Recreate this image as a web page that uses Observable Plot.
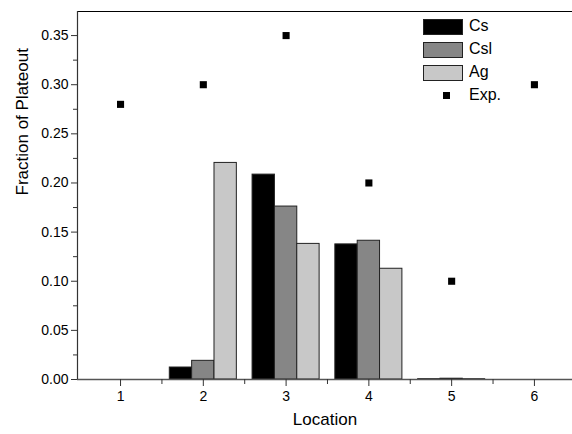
<!DOCTYPE html>
<html>
<head>
<meta charset="utf-8">
<script src="https://cdn.jsdelivr.net/npm/d3@7"></script>
<script src="https://cdn.jsdelivr.net/npm/@observablehq/plot@0.6"></script>
<style>
  body { margin: 0; background: #fff; font-family: "Liberation Sans", Arial, sans-serif; }
  #wrap { position: relative; width: 572px; height: 434px; }
  #legend { position: absolute; left: 423px; top: 19px; font-size: 16px; color: #000; }
  .item { position: absolute; left: 0; height: 16px; white-space: nowrap; }
  .sw { position: absolute; left: 0; top: 0; width: 38px; height: 14px; border: 1px solid #222; }
  .sq { position: absolute; left: 20px; top: 4px; width: 7px; height: 7px; background: #000; }
  .lb { position: absolute; left: 46px; top: -2px; line-height: 18px; }
</style>
</head>
<body>
<div id="wrap"><div id="legend"></div></div>
<script>
// ---- data ----
const locations = [1, 2, 3, 4, 5, 6];
const seriesNames = ["Cs", "Csl", "Ag"];
const csValues  = [0, 0.0122, 0.2085, 0.1375, 0.0003, 0];
const cslValues = [0, 0.0190, 0.1760, 0.1412, 0.0008, 0];
const agValues  = [0, 0.2204, 0.1380, 0.1127, 0.0003, 0];
const expName = "Exp.";
const expValues = [0.28, 0.30, 0.35, 0.20, 0.10, 0.30];
const seriesColors = ["#000000", "#868686", "#c8c8c8"];
const yTickValues = [0, 0.05, 0.10, 0.15, 0.20, 0.25, 0.30, 0.35];
const yMinorTicks = [0.025, 0.075, 0.125, 0.175, 0.225, 0.275, 0.325];
const xMinorTicks = [1.5, 2.5, 3.5, 4.5, 5.5];
const xLabel = "Location";
const yLabel = "Fraction of Plateout";

// ---- build table ----
const seriesValues = [csValues, cslValues, agValues];
const barWidth = 0.27;
const bars = [];
seriesValues.forEach((vals, i) => {
  vals.forEach((v, j) => {
    if (v > 0) bars.push({loc: locations[j], series: seriesNames[i], idx: i, value: v});
  });
});
const expData = locations.map((l, j) => ({loc: l, value: expValues[j]}));

const xDomain = [0.48, 6.46];
const yDomain = [0, 0.3745];

const chart = Plot.plot({
  width: 572,
  height: 434,
  marginLeft: 77,
  marginRight: 0,
  marginTop: 11,
  marginBottom: 55,
  style: {fontFamily: "'Liberation Sans', Arial, sans-serif", color: "#000", background: "#fff"},
  x: {domain: xDomain},
  y: {domain: yDomain},
  color: {domain: seriesNames, range: seriesColors},
  marks: [
    Plot.rectY(bars, {
      x1: d => d.loc + (d.idx - 1.5) * barWidth,
      x2: d => d.loc + (d.idx - 0.5) * barWidth,
      y1: 0,
      y2: "value",
      fill: "series",
      stroke: "#222",
      strokeWidth: 1
    }),
    Plot.dot(expData, {x: "loc", y: "value", symbol: "square", r: 4, fill: "#000", stroke: "none"}),
    Plot.ruleY([yDomain[1]], {stroke: "#000", strokeWidth: 1.2}),
    Plot.ruleY([0], {stroke: "#555", strokeWidth: 1.5}),
    Plot.ruleX([xDomain[0]], {stroke: "#333", strokeWidth: 1.2}),
    Plot.axisY(yTickValues, {
      tickSize: 6, tickPadding: 3, tickFormat: d3.format(".2f"), fontSize: 14,
      stroke: "#333", label: null
    }),
    Plot.axisY(yMinorTicks, {tickSize: 4, tickFormat: () => "", stroke: "#333", label: null}),
    Plot.axisX(locations, {
      tickSize: 7, tickPadding: 5, fontSize: 14, stroke: "#333", label: null
    }),
    Plot.axisX(xMinorTicks, {tickSize: 5, tickFormat: () => "", stroke: "#333", label: null}),
    Plot.text([yLabel], {frameAnchor: "left", dx: -55, rotate: -90, fontSize: 17, fill: "#000"}),
    Plot.text([xLabel], {frameAnchor: "bottom", dy: 45, fontSize: 17, fill: "#000"})
  ]
});
document.getElementById("wrap").prepend(chart);

// legend
const legend = document.getElementById("legend");
seriesNames.forEach((name, i) => {
  const it = document.createElement("div");
  it.className = "item";
  it.style.top = (i * 23) + "px";
  it.innerHTML = `<div class="sw" style="background:${seriesColors[i]}"></div><span class="lb">${name}</span>`;
  legend.appendChild(it);
});
const ex = document.createElement("div");
ex.className = "item";
ex.style.top = (3 * 23) + "px";
ex.innerHTML = `<div class="sq"></div><span class="lb">${expName}</span>`;
legend.appendChild(ex);
</script>
</body>
</html>
